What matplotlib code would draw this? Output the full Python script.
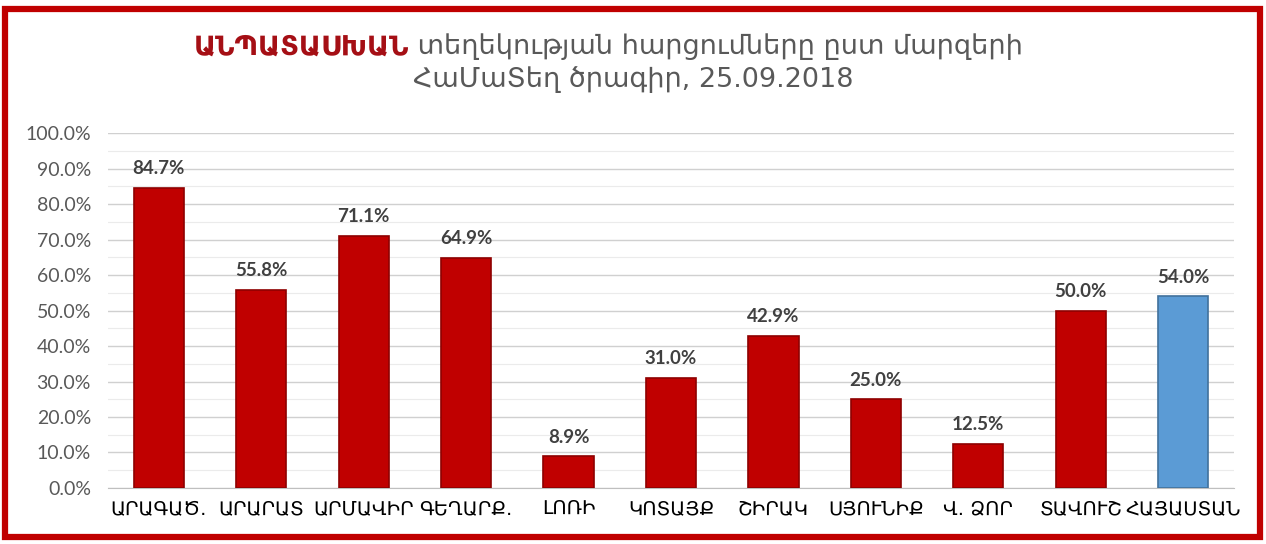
import numpy as np
import matplotlib.pyplot as plt
from matplotlib.patches import Rectangle

regions = ['ԱՐԱԳԱԾ.', 'ԱՐԱՐԱՏ', 'ԱՐՄԱՎԻՐ', 'ԳԵՂԱՐՔ.', 'ԼՈՌԻ', 'ԿՈՏԱՅՔ',
           'ՇԻՐԱԿ', 'ՍՅՈՒՆԻՔ', 'Վ. ՁՈՐ', 'ՏԱՎՈՒՇ', 'ՀԱՅԱՍՏԱՆ']
shares = [84.7, 55.8, 71.1, 64.9, 8.9, 31.0, 42.9, 25.0, 12.5, 50.0, 54.0]
title_red = 'ԱՆՊԱՏԱՍԽԱՆ'
title_rest = ' տեղեկության հարցումները ըստ մարզերի'
title_line2 = 'ՀաՄաՏեղ ծրագիր, 25.09.2018'

red = '#C00000'
blue = '#5B9BD5'
colors = [red] * (len(shares) - 1) + [blue]
edges = ['#8E0000'] * (len(shares) - 1) + ['#41719C']

fig = plt.figure(figsize=(12.66, 5.44), dpi=100)
ax = fig.add_axes([0.085, 0.103, 0.89, 0.652])

x = np.arange(len(regions))
ax.bar(x, shares, width=0.49, color=colors, edgecolor=edges, linewidth=1.2, zorder=3)

for xi, v in zip(x, shares):
    ax.text(xi, v + 3.0, f'{v:.1f}%', ha='center', va='bottom',
            fontsize=13.5, fontweight='bold', color='#404040', family='Lato')

ax.set_xlim(-0.5, len(regions) - 0.5)
ax.set_ylim(0, 100)
ax.set_yticks(np.arange(0, 101, 10))
ax.set_yticklabels([f'{t:.1f}%' for t in range(0, 101, 10)])
ax.set_yticks(np.arange(5, 100, 10), minor=True)
ax.grid(axis='y', which='major', color='#D0D0D0', linewidth=1.0, zorder=0)
ax.grid(axis='y', which='minor', color='#EBEBEB', linewidth=0.8, zorder=0)
ax.set_xticks(x)
ax.set_xticklabels(regions, fontsize=14, color='black', family='DejaVu Sans')
ax.tick_params(axis='x', length=0, pad=8)
ax.tick_params(axis='y', which='both', length=0, labelsize=14, labelcolor='#595959', pad=12)
for lab in ax.get_yticklabels():
    lab.set_family('Lato')
for s in ['left', 'right', 'top']:
    ax.spines[s].set_visible(False)
ax.spines['bottom'].set_color('#BFBFBF')

# title: red bold part followed by grey part
t1 = fig.text(0.153, 0.9, title_red, color='#A50F15', fontsize=19.5,
              fontweight='bold', family='DejaVu Sans', va='baseline', ha='left')
fig.canvas.draw()
ax.annotate(title_rest, xy=(1, 0), xycoords=t1, va='bottom', ha='left',
            fontsize=19.5, color='#595959', family='DejaVu Sans',
            annotation_clip=False)
fig.text(0.5, 0.84, title_line2, color='#595959', fontsize=19.5,
         family='DejaVu Sans', ha='center', va='baseline')

# red frame around the chart
fig.patches.append(Rectangle((0.004, 0.012), 0.991, 0.972, transform=fig.transFigure,
                             fill=False, edgecolor=red, linewidth=4.5))

plt.savefig('out.png', dpi=100)
